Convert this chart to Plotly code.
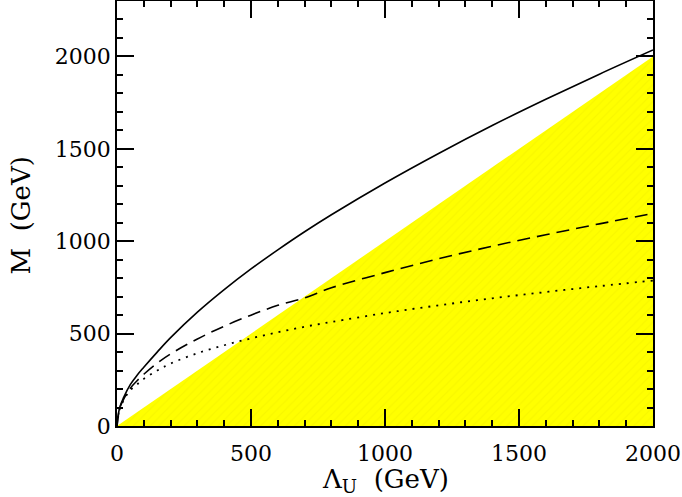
import plotly.graph_objects as go

# Lambda_U values (GeV) where the curves were read
lam = [0, 10, 25, 50, 75, 100, 150, 200, 300, 400, 500, 600, 700, 800,
       1000, 1200, 1400, 1600, 1800, 2000]

# M (GeV) for the three curves
m_solid = [0, 100, 155, 225, 275, 318, 400, 478, 616, 738, 850, 953, 1051, 1143,
           1315, 1475, 1626, 1768, 1904, 2035]
m_dashed = [0, 95, 145, 205, 245, 280, 340, 390, 471, 540, 600, 653, 693, 748,
            830, 905, 973, 1035, 1094, 1150]
m_dotted = [0, 90, 140, 195, 225, 255, 300, 338, 394, 437, 474, 507, 537, 563,
            611, 653, 691, 725, 757, 787]

# excluded region below M = Lambda_U
region_x = [0, 2000, 2000]
region_y = [0, 2000, 0]

fig = go.Figure()

fig.add_trace(go.Scatter(
    x=region_x, y=region_y,
    mode='none',
    fill='toself',
    fillcolor='#ffff00',
    fillpattern=dict(shape='/', bgcolor='#ffff00', fgcolor='#f2ef00',
                     size=6, solidity=0.2),
    hoverinfo='skip',
))

fig.add_trace(go.Scatter(x=lam, y=m_solid, mode='lines',
                         line=dict(color='black', width=1.6, shape='spline')))
fig.add_trace(go.Scatter(x=lam, y=m_dashed, mode='lines',
                         line=dict(color='black', width=1.6, dash='13px,7px', shape='spline')))
fig.add_trace(go.Scatter(x=lam, y=m_dotted, mode='lines',
                         line=dict(color='black', width=1.8, dash='2px,6px', shape='spline')))

axis_common = dict(
    showline=True, linecolor='black', linewidth=1.6, mirror='allticks',
    ticks='inside', ticklen=17, tickwidth=1.6, tickcolor='black',
    showgrid=False, zeroline=False,
    tickfont=dict(family='DejaVu Serif', size=22, color='black'),
)

fig.update_layout(
    width=682, height=497,
    margin=dict(l=117, r=29, t=1, b=71, autoexpand=False),
    plot_bgcolor='white', paper_bgcolor='white',
    showlegend=False,
    xaxis=dict(
        range=[0, 2000], dtick=500, ticklabelstandoff=7,
        minor=dict(dtick=100, ticks='inside', ticklen=6, tickwidth=1.6, tickcolor='black', showgrid=False),
        **axis_common,
    ),
    yaxis=dict(
        range=[0, 2300], dtick=500,
        minor=dict(dtick=100, ticks='inside', ticklen=6, tickwidth=1.6, tickcolor='black', showgrid=False),
        **axis_common,
    ),
)

# axis titles as annotations so they sit exactly where the original has them
fig.add_annotation(text='Λ<sub>U</sub>  (GeV)', xref='paper', yref='paper',
                   x=0.5, y=0, xanchor='center', yanchor='top', yshift=-36,
                   showarrow=False, font=dict(family='DejaVu Serif', size=26, color='black'))
fig.add_annotation(text='M  (GeV)', xref='paper', yref='paper', textangle=-90,
                   x=0, y=0.5, xanchor='center', yanchor='middle', xshift=-97, yshift=-2,
                   showarrow=False, font=dict(family='DejaVu Serif', size=26, color='black'))

fig.write_html("out.html", config={'displayModeBar': False},
               post_script="document.body.style.margin='0px';")
